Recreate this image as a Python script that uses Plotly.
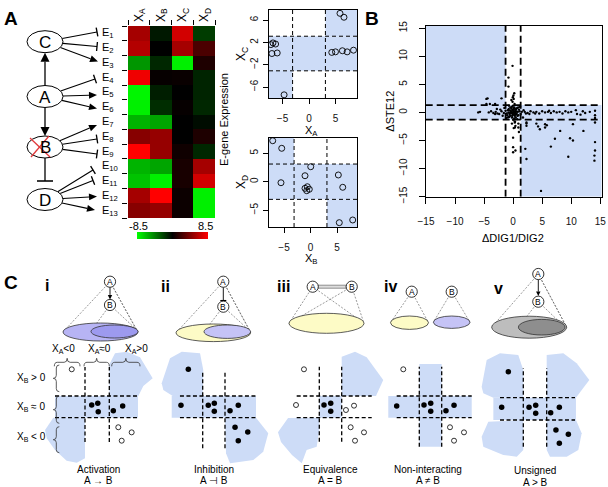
import math
import plotly.graph_objects as go

W, H = 608, 487
FONT = "Liberation Sans, Arial, Helvetica, sans-serif"
BLUE = "#cddcf7"

# ------------------------------------------------------------------ data
GENES = ["E<sub>1</sub>", "E<sub>2</sub>", "E<sub>3</sub>", "E<sub>4</sub>", "E<sub>5</sub>",
         "E<sub>6</sub>", "E<sub>7</sub>", "E<sub>8</sub>", "E<sub>9</sub>", "E<sub>10</sub>",
         "E<sub>11</sub>", "E<sub>12</sub>", "E<sub>13</sub>"]
REGULATORS = ["X<sub>A</sub>", "X<sub>B</sub>", "X<sub>C</sub>", "X<sub>D</sub>"]
HEAT = [
    [5.5, -0.8, 7.0, -2.0],
    [6.0, 0.0, 5.5, 2.5],
    [-5.0, -1.3, -8.0, 1.0],
    [8.0, 0.2, 0.3, -1.2],
    [-8.2, -1.0, 0.0, -1.2],
    [-8.0, -1.5, 0.2, -1.3],
    [-6.0, -5.5, 0.0, -0.4],
    [4.5, 5.0, 0.0, 1.0],
    [8.5, 5.0, 0.5, -1.3],
    [-6.0, -5.5, 0.8, 5.5],
    [-6.5, -8.0, 0.8, 7.0],
    [5.5, 8.5, 0.4, -8.0],
    [4.5, 5.0, 0.4, -8.0],
]
HEAT_LIMIT = 8.5
HEAT_TICKS = ["-8.5", "8.5"]

# Panel A scatter 1: X_A vs X_C
XA_1 = [5.85, 6.6, -4.7, 4.3, 5.0, 6.3, 7.2, 8.4, -7.2, -6.8, -6.3, -7.0, -6.0]
XC_1 = [7.2, 6.5, -7.4, 0.2, 0.3, 0.5, 0.3, 0.6, 1.6, 1.9, 1.7, 0.0, 0.1]
# Panel A scatter 2: X_B vs X_D
XB_2 = [-7.13, -5.43, -5.57, 0.04, -1.04, -1.04, -0.6, -0.23, -0.72, 5.25, 6.08, 5.43, 7.96]
XD_2 = [7.19, 5.86, -0.18, 2.63, 1.05, -1.16, -0.88, -1.33, -1.58, 1.18, -0.98, -7.19, -6.72]
A_THRESH = 3.1

# Panel B: delta DIG1/DIG2 vs delta STE12
DIG = [0, 0.2, -0.2, 0.4, -0.4, 0.1, -0.1, 0.6, -0.6, 0.3, -0.3, 0.8, -0.8, 0.5, -0.5, 0.9, -0.9, 0.2, -0.2,
       1.1, -1.1, 0.7, -0.7, 0.0, 0.0, 1.3, -1.3, 0.35, -0.35, 0.0, 0.0, 0.15, -0.15, 0.6, -0.6, 1.0, -1.0,
       0.45, -0.45, 0.25, -0.1, 0.1, 0.05, -0.05, 0.3, -0.2, 0.4, 0.1, 1.2, -1.2, 1.5, -1.6, 1.8, -2.0, 2.2,
       -2.4, 0.7, -0.7, 0.9, -0.9, 0.12, -0.12, 0.28, -0.28, 0.5, -0.5, 0.75, -0.75, 0.2, -0.2,
       -3.0, -3.4, -3.8, -4.2, -2.7, -3.1, -5.7, -6.0, -4.6, -4.0, -4.4, -2.0, -3.1, -0.8, -2.8, -4.6,
       -1.5, -1.8, -2.2, -0.8, -0.1, 0.2, -0.3,
       2.0, 2.5, 3.0, 3.5, 4.0, 4.5, 5.0, 5.5, 6.0, 6.5, 7.0, 7.5, 8.0, 8.5, 9.0, 9.5, 10.0, 11.0, 12.0,
       12.4, 14.1, 14.1, 14.1, 2.8, 3.8, 6.2, 10.8, 11.6, 13.2,
       1.7, 2.3, 2.3, 4.0, 4.3, 4.6, 5.5, 5.5, 5.8, 10.3, 8.1, 12.1, 9.8, 10.3, 14.1, 7.2, 2.1, 6.5, 14.1,
       9.5, 14.0, 14.0, 2.3, 4.8, 0.0, 0.0, 0.0, 0.3, 0.3, 0.9, 0.9, 14.1, 2.3, 0.4, 1.0]
STE = [0, 0.1, -0.1, 0.3, 0.2, -0.4, 0.5, -0.2, -0.3, -0.6, 0.7, 0.1, 0.0, 0.6, -0.6, -0.5, 0.4, 0.9, -0.9,
       0.2, -0.2, 0.8, -0.8, 1.2, -1.3, -0.3, 0.3, 0.0, 0.0, 0.35, -0.35, 0.6, -0.6, 0.15, -0.15, 0.5, -0.5,
       -0.9, 0.9, 1.5, 1.9, 2.4, 3.0, 2.7, -1.6, -2.0, -2.4, -2.8, 1.0, -1.0, 0.1, -0.1, 0.4, 0.2, -0.2,
       -0.3, -1.2, 1.2, 0.9, -0.9, 0.22, -0.22, -0.18, 0.18, -0.35, 0.35, -0.6, 0.6, -1.1, 1.0,
       0.1, -0.1, 0.2, 0.0, -0.2, -0.3, 0.1, 0.0, 1.5, 1.5, 2.5, 2.5, 1.5, 4.6, 0.6, 2.4,
       0.8, -0.6, 0.5, 6.2, 8.3, 3.4, 2.2,
       0.1, -0.1, 0.2, 0.0, 0.1, -0.2, 0.2, 0.0, 0.1, -0.1, 0.2, 0.0, 0.1, -0.2, 0.2, 0.0, 0.1, -0.3, 0.2,
       -0.1, 0.3, -0.5, -1.0, -0.3, -0.2, 0.3, 0.4, -0.4, 0.1,
       -0.9, -1.8, -2.4, -2.0, -2.5, -3.0, -2.1, -2.7, -2.3, -2.1, -3.3, -3.3, -4.6, -5.0, -5.3, -4.7, -6.5,
       -6.1, -6.8, -7.9, -7.7, -8.6, -8.3, -14.0, -6.2, -7.1, -4.5, -1.8, -2.7, -2.0, -2.7, -1.8, -2.0,
       -6.8, -3.5]
B_THRESH = 1.3

# Panel C schematic dots (X_A, X_B in schematic units; threshold at +-1)
C_FILLED_X = [
    [-0.45, 0.05, 0.09, 1.33, 2.10],
    [-2.29, -2.95, -0.50, 0.04, 0.04, 1.45, 2.19, 1.90, 3.04, 2.19],
    [-0.58, 0.02, 0.02],
    [-3.02, -0.58, 0.02, 0.02, 1.38, 2.10],
    [-2.28, -2.85, -0.51, 0.06, 0.06, 1.34, 2.08, 1.79, 2.85, 2.08],
]
C_FILLED_Y = [
    [0.17, 0.33, -0.45, -0.35, 0.08],
    [3.46, 0.14, 0.14, 0.33, -0.41, -0.35, 0.14, -1.88, -2.32, -3.12],
    [0.17, 0.33, -0.41],
    [0.08, 0.17, 0.33, -0.41, -0.35, 0.14],
    [3.33, 0.14, 0.14, 0.32, -0.40, -0.35, 0.14, -1.90, -2.28, -3.09],
]
C_OPEN_X = [
    [-2.09, 1.74, 2.84, 2.02],
    [],
    [-2.37, -3.08, 1.38, 2.10, 1.80, 2.99, 2.19],
    [-2.43, 1.74, 2.99, 2.10],
    [],
]
C_OPEN_Y = [
    [3.46, -1.88, -2.35, -3.12],
    [],
    [3.46, 0.17, -0.29, 0.11, -1.88, -2.35, -3.12],
    [3.46, -1.88, -2.35, -3.12],
    [],
]
C_CAPTIONS = ["Activation", "Inhibition", "Equivalence", "Non-interacting", "Unsigned"]
C_RELATIONS = ["A \u2192 B", "A \u22a3 B", "A = B", "A \u2260 B", "A &gt; B"]
C_NUMERALS = ["i", "ii", "iii", "iv", "v"]

# ------------------------------------------------------------------ helpers
shapes = []
annotations = []


def P(x, y):
    return x / W, 1 - y / H


def dom_x(a, b):
    return [a / W, b / W]


def dom_y(top, bottom):
    return [1 - bottom / H, 1 - top / H]


def add_line(x0, y0, x1, y1, color="black", width=1.0, dash=None):
    a, b = P(x0, y0)
    c, d = P(x1, y1)
    ln = dict(color=color, width=width)
    if dash:
        ln["dash"] = dash
    shapes.append(dict(type="line", xref="paper", yref="paper", x0=a, y0=b, x1=c, y1=d, line=ln))


def add_poly(pts, fill, line_color=None, width=0):
    path = "M " + " L ".join("%.5f,%.5f" % P(x, y) for x, y in pts) + " Z"
    shapes.append(dict(type="path", xref="paper", yref="paper", path=path, fillcolor=fill,
                       line=dict(color=line_color or fill, width=width)))


def add_ellipse(cx, cy, rx, ry, fill="white", line="black", width=1.0):
    a, b = P(cx - rx, cy + ry)
    c, d = P(cx + rx, cy - ry)
    shapes.append(dict(type="circle", xref="paper", yref="paper", x0=a, y0=b, x1=c, y1=d,
                       fillcolor=fill, line=dict(color=line, width=width)))


def add_rect(x0, y0, x1, y1, fill, line="#777", width=0.8):
    a, b = P(x0, y1)
    c, d = P(x1, y0)
    shapes.append(dict(type="rect", xref="paper", yref="paper", x0=a, y0=b, x1=c, y1=d,
                       fillcolor=fill, line=dict(color=line, width=width)))


def add_edge(x0, y0, x1, y1, kind, width=1.2, head=8.0, hw=3.6, bar=4.5):
    dx, dy = x1 - x0, y1 - y0
    n = math.hypot(dx, dy)
    ux, uy = dx / n, dy / n
    nx, ny = -uy, ux
    if kind == "arrow":
        bx, by = x1 - head * ux, y1 - head * uy
        add_line(x0, y0, bx, by, width=width)
        add_poly([(x1, y1), (bx + hw * nx, by + hw * ny), (bx - hw * nx, by - hw * ny)], "black")
    else:
        add_line(x0, y0, x1, y1, width=width)
        add_line(x1 + bar * nx, y1 + bar * ny, x1 - bar * nx, y1 - bar * ny, width=width * 1.2)


def ellipse_exit(cx, cy, rx, ry, tx, ty):
    dx, dy = tx - cx, ty - cy
    t = 1 / math.sqrt((dx / rx) ** 2 + (dy / ry) ** 2)
    return cx + dx * t, cy + dy * t


def text(x, y, s, size=10, xanchor="center", yanchor="middle", angle=0, color="black"):
    a, b = P(x, y)
    annotations.append(dict(xref="paper", yref="paper", x=a, y=b, text=s, showarrow=False,
                            xanchor=xanchor, yanchor=yanchor, textangle=angle,
                            font=dict(size=size, color=color, family=FONT)))


def q_path(cmds):
    out = []
    for c in cmds:
        op = c[0]
        pts = " ".join("%.5f,%.5f" % P(x, y) for x, y in c[1:])
        out.append(op + " " + pts)
    return " ".join(out)


def add_hbrace(x0, x1, ytip, h, r=3.0):
    xm = (x0 + x1) / 2
    ym = ytip + h / 2
    yb = ytip + h
    path = q_path([("M", (x0, yb)), ("Q", (x0, ym), (x0 + r, ym)), ("L", (xm - r, ym)),
                   ("Q", (xm, ym), (xm, ytip)), ("Q", (xm, ym), (xm + r, ym)), ("L", (x1 - r, ym)),
                   ("Q", (x1, ym), (x1, yb))])
    shapes.append(dict(type="path", xref="paper", yref="paper", path=path, line=dict(color="#333", width=0.8)))


def add_vbrace(y0, y1, xtip, w, r=3.0):
    ymid = (y0 + y1) / 2
    xm = xtip + w / 2
    xb = xtip + w
    path = q_path([("M", (xb, y0)), ("Q", (xm, y0), (xm, y0 + r)), ("L", (xm, ymid - r)),
                   ("Q", (xm, ymid), (xtip, ymid)), ("Q", (xm, ymid), (xm, ymid + r)), ("L", (xm, y1 - r)),
                   ("Q", (xm, y1), (xb, y1))])
    shapes.append(dict(type="path", xref="paper", yref="paper", path=path, line=dict(color="#333", width=0.8)))


fig = go.Figure()

# ------------------------------------------------------------------ panel A heatmap
rows = list(range(len(GENES)))
fig.add_trace(go.Heatmap(
    z=HEAT, x=list(range(len(REGULATORS))), y=rows, xaxis="x", yaxis="y",
    zmin=-HEAT_LIMIT, zmax=HEAT_LIMIT,
    colorscale=[[0, "#00ff00"], [0.5, "#000000"], [1, "#ff0000"]],
    colorbar=dict(orientation="h", x=172.5 / W, xanchor="center", y=1 - 239 / H, yanchor="bottom",
                  len=71 / W, lenmode="fraction", thickness=7, thicknessmode="pixels",
                  outlinewidth=0, xpad=0, ypad=0, ticks="", showticklabels=False),
    hoverinfo="skip",
))
text(138, 226, HEAT_TICKS[0], size=11)
text(205.5, 226, HEAT_TICKS[1], size=11)
for i, g in enumerate(GENES):
    annotations.append(dict(xref="paper", yref="y", x=100 / W, y=i, text=g, showarrow=False,
                            xanchor="left", yanchor="middle", font=dict(size=11, family=FONT, color="black")))

# ------------------------------------------------------------------ panel A network
NODES = {"C": (45, 41.7), "A": (45, 96.5), "B": (45, 147.0), "D": (45, 199.5)}
RX, RY = 18, 11
E_TARGETS = [(97, 32, "tee", "C"), (97, 46.5, "tee", "C"), (98, 61.5, "arrow", "C"),
             (95, 79, "tee", "A"), (97, 95, "arrow", "A"), (97, 108.5, "arrow", "A"),
             (97, 125, "arrow", "B"), (97, 139, "tee", "B"), (97, 154, "tee", "B"),
             (93, 170, "tee", "D"), (93, 180.5, "tee", "D"), (97, 196.5, "arrow", "D"), (95, 210, "arrow", "D")]
for tx, ty, kind, src in E_TARGETS:
    cx, cy = NODES[src]
    sx, sy = ellipse_exit(cx, cy, RX, RY, tx, ty)
    add_edge(sx, sy, tx, ty, kind, width=1.1, head=8, hw=3.4)
add_edge(45, NODES["A"][1] - RY, 45, NODES["C"][1] + RY, "arrow", width=1.3, head=9, hw=4.5)
add_edge(45, NODES["A"][1] + RY, 45, NODES["B"][1] - RY, "arrow", width=1.3, head=9, hw=4.5)
add_edge(45, NODES["B"][1] + RY, 45, 181, "tee", width=1.3, bar=8)
for name, (cx, cy) in NODES.items():
    add_ellipse(cx, cy, RX, RY, fill="white", line="black", width=1.0)
    text(cx, cy + 0.5, name, size=17)
add_line(30, 138, 50, 157, color="#e0393b", width=1.3)
add_line(49, 136, 31, 157, color="#e0393b", width=1.3)

text(224, 120, "E-gene Expression", size=11, angle=-90)

# ------------------------------------------------------------------ panel A scatters
AX_STYLE = dict(showline=True, linecolor="black", linewidth=1, mirror=True, ticks="outside", ticklen=5,
                tickcolor="black", tickfont=dict(size=10, family=FONT, color="#111"),
                showgrid=False, zeroline=False, fixedrange=True)

XR2, YR2 = [-7.55, 9.06], [-7.97, 7.8]
XR3, YR3 = [-7.83, 8.77], [-7.95, 7.67]
T = A_THRESH


def data_rect(xref, yref, x0, x1, y0, y1, fill=BLUE):
    shapes.append(dict(type="rect", xref=xref, yref=yref, x0=x0, x1=x1, y0=y0, y1=y1,
                       fillcolor=fill, line=dict(width=0), layer="below"))


def data_line(xref, yref, x0, x1, y0, y1, width=1.0, dash="4px,3px"):
    shapes.append(dict(type="line", xref=xref, yref=yref, x0=x0, x1=x1, y0=y0, y1=y1,
                       line=dict(color="black", width=width, dash=dash), layer="below"))


# top: activation A -> C
data_rect("x2", "y2", XR2[0], XR2[1], -T, T)
data_rect("x2", "y2", T, XR2[1], T, YR2[1])
data_rect("x2", "y2", XR2[0], -T, YR2[0], -T)
for v in (-T, T):
    data_line("x2", "y2", v, v, YR2[0], YR2[1])
    data_line("x2", "y2", XR2[0], XR2[1], v, v)
# bottom: inhibition B -| D
data_rect("x3", "y3", XR3[0], XR3[1], -T, T)
data_rect("x3", "y3", XR3[0], -T, T, YR3[1])
data_rect("x3", "y3", T, XR3[1], YR3[0], -T)
for v in (-T, T):
    data_line("x3", "y3", v, v, YR3[0], YR3[1])
    data_line("x3", "y3", XR3[0], XR3[1], v, v)

OPEN_MK = dict(symbol="circle-open", size=6, color="black", line=dict(width=0.9))
fig.add_trace(go.Scatter(x=XA_1, y=XC_1, mode="markers", marker=OPEN_MK, xaxis="x2", yaxis="y2", hoverinfo="skip"))
fig.add_trace(go.Scatter(x=XB_2, y=XD_2, mode="markers", marker=OPEN_MK, xaxis="x3", yaxis="y3", hoverinfo="skip"))

text(242, 54, "X<sub>C</sub>", size=12, angle=-90)
text(311, 131, "X<sub>A</sub>", size=11)
text(242, 182, "X<sub>D</sub>", size=12, angle=-90)
text(311, 259, "X<sub>B</sub>", size=11)

# ------------------------------------------------------------------ panel B
XR4, YR4 = [-15.05, 15.25], [-15.03, 15.4]
BT = B_THRESH
data_rect("x4", "y4", XR4[0], -BT, BT, YR4[1])
data_rect("x4", "y4", XR4[0], XR4[1], -BT, BT)
data_rect("x4", "y4", BT, XR4[1], YR4[0], -BT)
for v in (-BT, BT):
    data_line("x4", "y4", v, v, YR4[0], YR4[1], width=1.8, dash="7px,4px")
    data_line("x4", "y4", XR4[0], XR4[1], v, v, width=1.8, dash="7px,4px")
fig.add_trace(go.Scatter(x=DIG, y=STE, mode="markers", marker=dict(size=2.4, color="black"),
                         xaxis="x4", yaxis="y4", hoverinfo="skip"))
text(390, 111.7, "\u0394STE12", size=11, angle=-90)
text(513.3, 238.3, "\u0394DIG1/DIG2", size=11)

# ------------------------------------------------------------------ panel C
C_LAYOUT = [  # cx, cy, sx, sy in pixels
    (97.15, 406.85, 12.15, 10.85),
    (213.85, 406.85, 11.15, 10.85),
    (330.5, 406.85, 11.2, 10.85),
    (430.5, 406.85, 11.2, 10.85),
    (535.0, 408.85, 11.7, 11.15),
]
C_DASH_EXT = [  # u_lo, u_hi, v_lo, v_hi
    (-3.47, 3.36, -3.24, 3.67),
    (-3.04, 3.78, -3.82, 3.15),
    (-3.02, 3.68, -3.21, 3.70),
    (-3.02, 3.68, -3.67, 3.70),
    (-2.99, 3.42, -3.39, 3.64),
]
C_BLUE = [
    [[(-3.47, -1), (3.36, -1), (3.36, 1), (-3.47, 1)],
     [(1.0, 1.0), (3.39, 1.0), (3.80, 1.92), (4.57, 2.63), (3.53, 4.57), (2.43, 5.08), (1.47, 4.94), (1.0, 3.9)],
     [(-1.0, -1.0), (-3.61, -1.0), (-4.29, -2.13), (-4.15, -2.9), (-3.47, -3.98), (-2.51, -4.96),
      (-1.68, -5.15), (-1.0, -4.74)]],
    [[(-3.78, -1), (3.78, -1), (3.78, 1), (-3.78, 1)],
     [(-1.0, 1.0), (-3.69, 1.0), (-4.53, 1.55), (-4.68, 2.17), (-3.93, 4.47), (-2.88, 5.08), (-1.24, 4.93),
      (-0.95, 3.40)],
     [(1.0, -1.0), (3.78, -1.0), (4.88, -2.44), (4.43, -4.13), (3.54, -4.9), (1.45, -5.2), (1.09, -4.28)]],
    [[(-1, -1), (1, -1), (1, 1), (-1, 1)],
     [(1.0, 1.0), (4.06, 1.0), (4.71, 2.47), (3.23, 4.57), (2.19, 5.08), (1.0, 4.62)],
     [(-1.0, -1.0), (-3.79, -1.03), (-4.69, -2.33), (-4.42, -3.23), (-3.44, -4.43), (-2.57, -5.2),
      (-2.13, -3.98), (-1.23, -3.67), (-1.0, -2.13)]],
    [[(-3.77, -1), (3.68, -1), (3.68, 1), (-3.77, 1)],
     [(-1, -3.67), (1, -3.67), (1, 3.95), (-1, 3.95)]],
    [[(-3.56, -1), (3.50, -1), (3.50, 1), (-3.56, 1)],
     [(-1.0, 1.0), (-3.56, 1.0), (-4.42, 1.39), (-4.56, 1.99), (-4.13, 4.38), (-2.99, 4.98), (-1.43, 4.83),
      (-1.0, 3.48)],
     [(-1.0, -1.0), (-3.99, -1.15), (-4.56, -2.5), (-4.42, -3.39), (-2.71, -4.14), (-1.56, -4.29),
      (-1.0, -3.69)],
     [(1.0, 1.0), (3.50, 1.0), (4.64, 2.59), (3.56, 4.09), (2.42, 4.98), (1.0, 4.83)],
     [(1.0, -1.0), (3.50, -1.0), (3.99, -2.19), (3.70, -3.69), (2.71, -4.29), (1.28, -4.29), (1.0, -3.69)]],
]

layout_axes = {}
for k in range(5):
    ax = 5 + k
    cx, cy, sx, sy = C_LAYOUT[k]
    xr, yr = f"x{ax}", f"y{ax}"
    layout_axes[f"xaxis{ax}"] = dict(domain=dom_x(cx - 70, cx + 70), range=[-70 / sx, 70 / sx], visible=False,
                                     anchor=yr, fixedrange=True)
    layout_axes[f"yaxis{ax}"] = dict(domain=dom_y(cy - 65, cy + 65), range=[-65 / sy, 65 / sy], visible=False,
                                     anchor=xr, fixedrange=True)
    for poly in C_BLUE[k]:
        path = "M " + " L ".join("%.3f,%.3f" % p for p in poly) + " Z"
        shapes.append(dict(type="path", xref=xr, yref=yr, path=path, fillcolor=BLUE, line=dict(width=0),
                           layer="below"))
    ulo, uhi, vlo, vhi = C_DASH_EXT[k]
    for v in (-1, 1):
        data_line(xr, yr, v, v, vlo, vhi, width=1.3, dash="4px,2.5px")
        data_line(xr, yr, ulo, uhi, v, v, width=1.3, dash="4px,2.5px")
    fig.add_trace(go.Scatter(x=C_FILLED_X[k], y=C_FILLED_Y[k], mode="markers",
                             marker=dict(size=5.5, color="black"), xaxis=xr, yaxis=yr, hoverinfo="skip"))
    if C_OPEN_X[k]:
        fig.add_trace(go.Scatter(x=C_OPEN_X[k], y=C_OPEN_Y[k], mode="markers",
                                 marker=dict(symbol="circle-open", size=5, color="black", line=dict(width=0.8)),
                                 xaxis=xr, yaxis=yr, hoverinfo="skip"))

CAP_POS = [(98.3, 469), (214.3, 469), (330.7, 469), (428.3, 469), (535, 470.5)]
for k in range(5):
    x, y = CAP_POS[k]
    text(x, y, C_CAPTIONS[k], size=10)
    text(x, y + 11.5, C_RELATIONS[k], size=10)

NUM_POS = [(47, 285), (165, 286.5), (283.3, 286.5), (390, 286.5), (498.3, 288)]
for k in range(5):
    text(NUM_POS[k][0], NUM_POS[k][1], "<b>%s</b>" % C_NUMERALS[k], size=16)

# column/row labels and braces in C-i
text(63, 348.5, "X<sub>A</sub>&lt;0", size=10)
text(99, 348.5, "X<sub>A</sub>\u22480", size=10)
text(136.7, 348.5, "X<sub>A</sub>&gt;0", size=10)
add_hbrace(54.3, 80, 358.3, 8)
add_hbrace(84, 109.3, 358.3, 8)
add_hbrace(111.7, 140, 358.3, 8)
text(31, 378.3, "X<sub>B</sub> &gt; 0", size=10)
text(31, 406.7, "X<sub>B</sub> \u2248 0", size=10)
text(31, 436.7, "X<sub>B</sub> &lt; 0", size=10)
add_vbrace(365, 391.7, 53.3, 6)
add_vbrace(396, 423.3, 53.3, 6)
add_vbrace(426.7, 452.7, 53.3, 6)

# C network diagrams
CONE = dict(color="#555", width=0.6, dash="2px,1.5px")
LAV = "#b7b4f4"
LAV2 = "#9d9aef"
YEL = "#fdfbc6"
NR = 5.6


def node(x, y, s):
    add_ellipse(x, y, NR, NR, fill="white", line="black", width=0.8)
    text(x, y + 0.3, s, size=8.5)


def cone(x, y, pts):
    for px, py in pts:
        add_line(x, y, px, py, **CONE)


# i
cone(110, 281.7, [(63, 332), (138, 332), (136, 329)])
cone(110, 305, [(91, 331), (138, 331)])
add_ellipse(100.5, 332, 37.5, 9, fill=LAV, line="#333", width=0.8)
add_ellipse(114.5, 331.5, 23.5, 6.5, fill=LAV2, line="#333", width=0.8)
add_edge(110, 281.7 + NR, 110, 305 - NR, "arrow", width=0.9, head=4.5, hw=2.2)
node(110, 281.7, "A")
node(110, 305, "B")
# ii
cone(223.3, 281.7, [(176, 332.8), (250.7, 332.8), (249, 329)])
cone(223.3, 306.7, [(204, 331.7), (250.7, 331.7)])
add_ellipse(213.3, 332.8, 37.3, 8.8, fill=YEL, line="#333", width=0.8)
add_ellipse(227.3, 331.7, 23.3, 6.7, fill="#c5c3f6", line="#333", width=0.8)
add_edge(223.3, 281.7 + NR, 223.3, 300.5, "tee", width=0.9, bar=3)
node(223.3, 281.7, "A")
node(223.3, 306.7, "B")
# iii
cone(312.7, 286.7, [(289, 323.3), (364, 323.3)])
cone(351.7, 286.7, [(289, 323.3), (364, 323.3)])
add_ellipse(326.5, 323.3, 37.5, 10, fill=YEL, line="#333", width=0.8)
add_rect(318, 285.2, 346.4, 288.2, fill="#dddddd", line="#777", width=0.8)
node(312.7, 286.7, "A")
node(351.7, 286.7, "B")
# iv
cone(411.7, 291.7, [(390.5, 322.7), (428.5, 322.7)])
cone(451.7, 291.7, [(433.4, 322.2), (470, 322.2)])
add_ellipse(409.5, 322.7, 19, 6.7, fill=YEL, line="#333", width=0.8)
add_ellipse(451.7, 322.2, 18.3, 6.2, fill="#c5c3f6", line="#333", width=0.8)
node(411.7, 291.7, "A")
node(451.7, 291.7, "B")
# v
cone(538.3, 274, [(491.7, 327.2), (566.7, 327.2), (565, 324)])
cone(538.3, 301.7, [(518.3, 327.2), (565, 327.2)])
add_ellipse(529.2, 327.2, 37.5, 11, fill="#bdbdbd", line="#333", width=0.8)
add_ellipse(541.7, 327.2, 23.3, 7.8, fill="#8e8e8e", line="#333", width=0.8)
add_edge(538.3, 274 + NR, 538.3, 301.7 - NR, "arrow", width=0.9, head=4.5, hw=2.2)
node(538.3, 274, "A")
node(538.3, 301.7, "B")

# panel letters
text(2, 18.5, "<b>A</b>", size=19, xanchor="left")
text(363, 18.5, "<b>B</b>", size=19, xanchor="left")
text(2, 282.5, "<b>C</b>", size=19, xanchor="left")

# ------------------------------------------------------------------ layout
fig.update_layout(
    width=W, height=H, margin=dict(l=0, r=0, t=0, b=0, autoexpand=False),
    paper_bgcolor="white", plot_bgcolor="rgba(0,0,0,0)", showlegend=False,
    font=dict(family=FONT, color="black"),
    xaxis=dict(domain=dom_x(128, 215), range=[-0.5, 3.5], side="top", tickmode="array",
               tickvals=list(range(len(REGULATORS))), ticktext=REGULATORS, tickangle=-90, ticks="",
               tickfont=dict(size=12, family=FONT, color="black"), ticklabelstandoff=3,
               minor=dict(ticks="outside", tick0=0.5, dtick=1, ticklen=5, tickcolor="black"),
               showgrid=False, zeroline=False, showline=False, anchor="y", fixedrange=True),
    yaxis=dict(domain=dom_y(26, 218), range=[12.5, -0.5], showticklabels=False, ticks="",
               minor=dict(ticks="outside", tick0=0.5, dtick=1, ticklen=5, tickcolor="black"),
               showgrid=False, zeroline=False, showline=False, anchor="x", fixedrange=True),
    xaxis2=dict(domain=dom_x(269, 357), range=XR2, tickvals=[-5, 0, 5], anchor="y2",
                ticklabelstandoff=6, **AX_STYLE),
    yaxis2=dict(domain=dom_y(10, 98), range=YR2, tickvals=[-6, -2, 2, 6], tickangle=-90, anchor="x2",
                ticklabelstandoff=1, **AX_STYLE),
    xaxis3=dict(domain=dom_x(269, 357), range=XR3, tickvals=[-5, 0, 5], anchor="y3",
                ticklabelstandoff=6, **AX_STYLE),
    yaxis3=dict(domain=dom_y(138, 227), range=YR3, tickvals=[-5, 0, 5], tickangle=-90, anchor="x3",
                ticklabelstandoff=1, **AX_STYLE),
    xaxis4=dict(domain=dom_x(425.7, 601.7), range=XR4, tickvals=[-15, -10, -5, 0, 5, 10, 15], anchor="y4",
                ticklabelstandoff=9, **{**AX_STYLE, "ticklen": 6}),
    yaxis4=dict(domain=dom_y(26, 196.7), range=YR4, tickvals=[-15, -10, -5, 0, 5, 10, 15], tickangle=-90,
                anchor="x4", ticklabelstandoff=8, **{**AX_STYLE, "ticklen": 6}),
    shapes=shapes, annotations=annotations,
)
fig.update_layout(**layout_axes)

fig.write_html("out.html", config={"displayModeBar": False},
               post_script="document.body.style.margin='0';document.body.style.padding='0';")
